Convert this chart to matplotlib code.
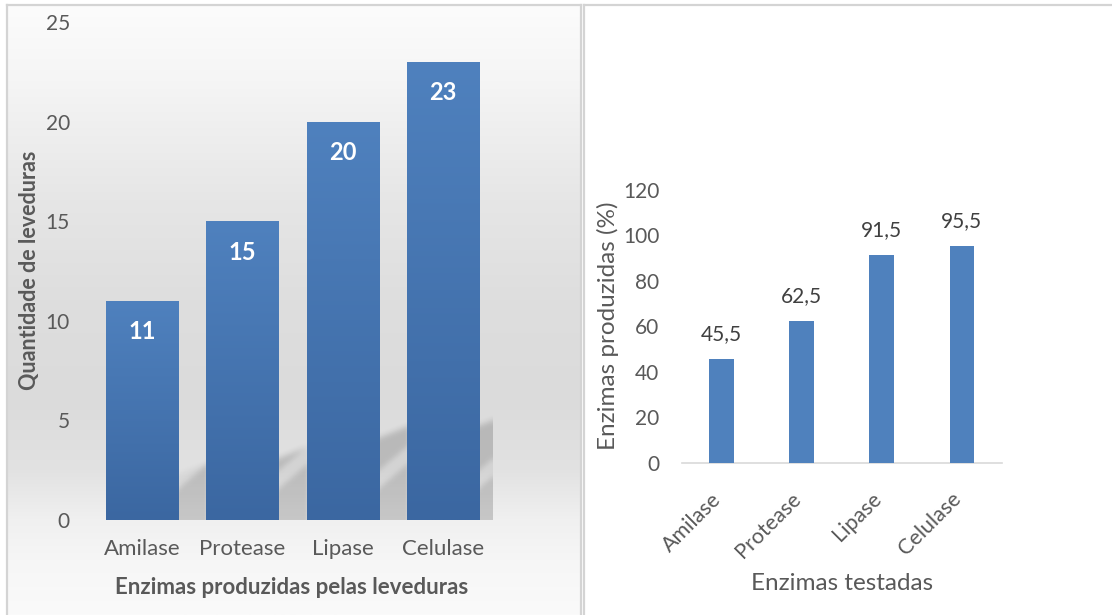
import numpy as np
import matplotlib
matplotlib.use("Agg")
import matplotlib.pyplot as plt
from matplotlib.lines import Line2D
from matplotlib.transforms import ScaledTranslation

plt.rcParams['font.family'] = ['Lato', 'DejaVu Sans']

# ---------------- data ----------------
categories = ['Amilase', 'Protease', 'Lipase', 'Celulase']
quantidade = [11, 15, 20, 23]
percentual = [45.5, 62.5, 91.5, 95.5]
left_yticks = [0, 5, 10, 15, 20, 25]
right_yticks = [0, 20, 40, 60, 80, 100, 120]
left_xlabel = 'Enzimas produzidas pelas leveduras'
left_ylabel = 'Quantidade de leveduras'
right_xlabel = 'Enzimas testadas'
right_ylabel = 'Enzimas produzidas (%)'

W, H = 1112, 615
fig = plt.figure(figsize=(W / 100, H / 100), dpi=100)
fig.patch.set_facecolor('white')

def fx(px):
    return px / W

def fy(py):
    return 1 - py / H

TICK = '#595959'

# ---------------- left panel background gradient ----------------
bg = fig.add_axes([fx(8), 0, fx(581) - fx(8), fy(5)], zorder=-10)
stops_y = np.array([5, 80, 200, 300, 400, 470, 520, 560, 615])
stops_v = np.array([252, 245, 230, 222, 219, 226, 240, 246, 250]) / 255.0
ys = np.linspace(5, 615, 400)
vals = np.interp(ys, stops_y, stops_v)
grad = np.repeat(vals[:, None, None], 3, axis=2)
bg.imshow(grad, aspect='auto', extent=[0, 1, 0, 1], origin='upper')
bg.set_axis_off()

# frames
frame_c = '#d4d4d4'
for (x0, y0, x1, y1) in [(7, 5, 581, 5), (7, 5, 7, 615), (581, 5, 581, 615),
                         (584, 5, 1112, 5), (584, 5, 584, 615)]:
    fig.add_artist(Line2D([fx(x0), fx(x1)], [fy(y0), fy(y1)], color=frame_c, lw=1.6))

# ---------------- left chart ----------------
ax1 = fig.add_axes([fx(92), fy(520), fx(493) - fx(92), fy(22) - fy(520)], zorder=1)
ax1.set_facecolor('none')
x = np.arange(len(categories))
bw = 0.72
bars = ax1.bar(x, quantidade, width=bw, color='#4a78b5', zorder=3)
ax1.set_xlim(-0.5, 3.5)
ax1.set_ylim(0, 25)

# gradient fill for bars
for b in bars:
    bx0, by0 = b.get_x(), b.get_y()
    bh = b.get_height()
    g = np.linspace(0, 1, 200)
    top = np.array([0x4f, 0x81, 0xbe]) / 255.0
    bot = np.array([0x3b, 0x67, 0xa1]) / 255.0
    col = top[None, :] * (1 - g[:, None]) + bot[None, :] * g[:, None]
    im = ax1.imshow(col[:, None, :], extent=[bx0, bx0 + bw, by0, by0 + bh],
                    aspect='auto', origin='upper', zorder=4)
    im.set_clip_path(b)

# perspective shadow (derived from the bar values)
nx, ny = 400, 500
gx = np.linspace(-0.5, 3.5, nx)
gy = np.linspace(0, 25, ny)
XX, YY = np.meshgrid(gx, gy)
mask = np.zeros_like(XX)
for xi, h in zip(x, quantidade):
    Hs = 0.205 * h
    x0 = xi - bw / 2
    x1 = xi + bw / 2
    top_edge = Hs + 0.8 * np.clip(XX - x1, 0, None) * 5.0 * 0.5
    inside = (YY <= top_edge) & (XX >= x0 + 0.1) & (XX <= x1 + 0.3)
    m = inside.astype(float)
    # light diagonal streak
    dist = YY - (2.0 + 4.25 * (XX - x1))
    streak = (np.abs(dist) < 0.45) & (XX > x1 - 0.05)
    m = np.where(streak, m * 0.35, m)
    # lighter bottom-right corner of the gap
    corner = (YY < 4.25 * (XX - x1) - 1.6)
    m = np.where(corner, m * 0.55, m)
    mask = np.maximum(mask, m)

def blur(a, k, axis):
    pad = k // 2
    widths = [(0, 0), (0, 0)]
    widths[axis] = (pad, pad)
    ap = np.pad(a, widths, mode='edge')
    ker = np.ones(k) / k
    return np.apply_along_axis(lambda v: np.convolve(v, ker, mode='valid'), axis, ap)

for _ in range(2):
    mask = blur(mask, 7, 0)
    mask = blur(mask, 5, 1)
shadow = np.zeros((ny, nx, 4))
shadow[..., 3] = mask * 0.17
ax1.imshow(shadow, extent=[-0.5, 3.5, 0, 25], origin='lower', aspect='auto', zorder=2)
ax1.set_xlim(-0.5, 3.5)
ax1.set_ylim(0, 25)

for xi, v in zip(x, quantidade):
    ax1.annotate(str(v), (xi, v), xytext=(0, -31), textcoords='offset pixels',
                 ha='center', va='center', color='white', fontsize=17,
                 fontweight='bold', zorder=6)

for s in ax1.spines.values():
    s.set_visible(False)
ax1.set_xticks(x)
ax1.set_xticklabels(categories)
ax1.set_yticks(left_yticks)
ax1.tick_params(axis='both', length=0, colors=TICK, labelsize=15)
ax1.tick_params(axis='x', labelsize=16, pad=14)
ax1.tick_params(axis='y', pad=16)

fig.text(fx(292), fy(588), left_xlabel, ha='center', va='center',
         fontsize=16, fontweight='bold', color=TICK)
fig.text(fx(30), fy(270), left_ylabel, ha='center', va='center', rotation=90,
         fontsize=15.5, fontweight='bold', color=TICK)

# ---------------- right chart ----------------
ax2 = fig.add_axes([fx(681.5), fy(462.7), fx(1002) - fx(681.5), fy(190) - fy(462.7)])
ax2.set_facecolor('none')
ax2.bar(x, percentual, width=0.31, color='#4f81bd', zorder=3)
ax2.set_xlim(-0.5, 3.5)
ax2.set_ylim(0, 120)
for s in ['top', 'right', 'left']:
    ax2.spines[s].set_visible(False)
ax2.spines['bottom'].set_color('#d9d9d9')
ax2.spines['bottom'].set_linewidth(1.2)
ax2.set_yticks(right_yticks)
ax2.set_xticks(x)
ax2.set_xticklabels(categories, rotation=45, ha='right', va='center',
                    rotation_mode='anchor')
ax2.tick_params(axis='both', length=0, colors=TICK, labelsize=15)
ax2.tick_params(axis='y', pad=16)
ax2.tick_params(axis='x', labelsize=15.5, pad=24)
for lab in ax2.get_xticklabels():
    lab.set_transform(lab.get_transform() + ScaledTranslation(-3.5 / 100, 0, fig.dpi_scale_trans))

for xi, v in zip(x, percentual):
    ax2.annotate(f'{v:.1f}'.replace('.', ','), (xi, v), xytext=(0, 25),
                 textcoords='offset pixels', ha='center', va='center',
                 color='#404040', fontsize=15)

fig.text(fx(842), fy(584), right_xlabel, ha='center', va='center',
         fontsize=17.5, color=TICK)
fig.text(fx(607.5), fy(326), right_ylabel, ha='center', va='center',
         rotation=90, fontsize=17.5, color=TICK)

fig.savefig('out.png', dpi=100)
